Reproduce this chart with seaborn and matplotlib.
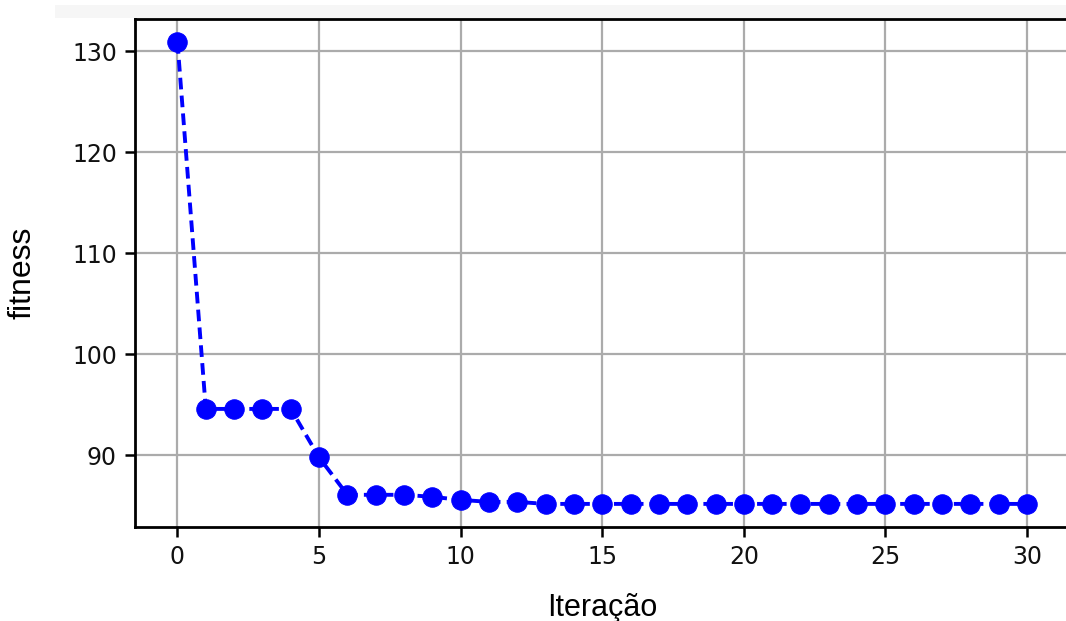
import matplotlib
matplotlib.use("Agg")
import matplotlib.pyplot as plt
import seaborn as sns
import pandas as pd
from matplotlib.patches import Rectangle

# Best fitness per iteration of the optimisation run
iteracoes = list(range(31))
fitness = [130.9, 94.6, 94.6, 94.6, 94.6, 89.8, 86.1, 86.1, 86.1, 85.9,
           85.6, 85.4, 85.4, 85.2, 85.2, 85.2, 85.2, 85.2, 85.2, 85.2,
           85.2, 85.2, 85.2, 85.2, 85.2, 85.2, 85.2, 85.2, 85.2, 85.2, 85.2]
x_ticks = [0, 5, 10, 15, 20, 25, 30]
y_ticks = [90, 100, 110, 120, 130]

sns.set_style("ticks")
plt.rcParams["font.family"] = ["DejaVu Sans"]

df = pd.DataFrame({"Iteração": iteracoes, "fitness": fitness})

fig = plt.figure(figsize=(10.66, 6.21), dpi=100)
# faint strip above the plot frame
fig.patches.append(Rectangle((55 / 1066, 1 - 18 / 621), 1.0, 13 / 621,
                             transform=fig.transFigure, facecolor="#f6f6f6",
                             edgecolor="none", zorder=0))
ax = fig.add_axes([135 / 1066, 1 - 527 / 621, (1069.5 - 135) / 1066, (527 - 19) / 621])

sns.lineplot(data=df, x="Iteração", y="fitness", ax=ax, color="#0000ff",
             marker="o", markersize=14, markeredgecolor="#0000ff",
             linestyle="--", linewidth=2.8, dashes=False)
ax.lines[0].set_linestyle((0, (3.0, 1.6)))

ax.margins(x=0.05, y=0.05)
ax.set_xticks(x_ticks)
ax.set_yticks(y_ticks)
ax.grid(True, color="#ababab", linewidth=1.6)
ax.set_axisbelow(True)

for side in ["left", "bottom", "top", "right"]:
    ax.spines[side].set_visible(True)
    ax.spines[side].set_color("black")
    ax.spines[side].set_linewidth(2.0)

ax.tick_params(axis="both", labelsize=17, length=7, width=1.8, colors="black",
               labelcolor="#111111", pad=6)
ax.set_xlabel("Iteração", fontsize=22, color="black",
              family=["Liberation Sans", "DejaVu Sans"], labelpad=17)
ax.set_ylabel("fitness", fontsize=23, color="black",
              family=["Liberation Sans", "DejaVu Sans"], labelpad=25)

fig.savefig("out.png", dpi=100, facecolor="white")
